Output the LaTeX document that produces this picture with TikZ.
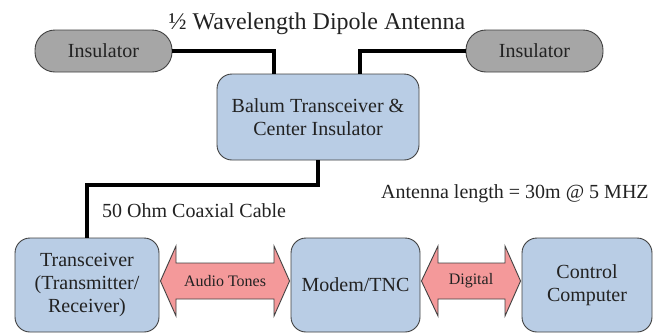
\documentclass[tikz,border=0pt]{standalone}
\usepackage{fontspec}
\setmainfont{Liberation Serif}
\usetikzlibrary{calc}
\definecolor{boxblue}{HTML}{B9CDE5}
\definecolor{insgray}{HTML}{A6A6A6}
\definecolor{arrowpink}{HTML}{F4999A}
\definecolor{edgegray}{HTML}{404040}
\definecolor{txt}{HTML}{222222}
\tikzset{
  bluebox/.style={draw=edgegray, line width=0.9pt, fill=boxblue, rounded corners=15pt,
    align=center, inner sep=0pt, text=txt, font=\fontsize{20}{23}\selectfont},
  insbox/.style={draw=edgegray, line width=0.9pt, fill=insgray, rounded corners=20pt,
    minimum width=137pt, minimum height=42pt, inner sep=0pt, text=txt, font=\fontsize{20}{23}\selectfont},
  wire/.style={line width=4pt, black},
  fatarrow/.style={draw=edgegray, line width=0.9pt, fill=arrowpink},
  lbl/.style={text=txt, inner sep=0pt, font=\fontsize{20}{23}\selectfont},
  smalllbl/.style={text=txt, inner sep=0pt, font=\fontsize{16}{19}\selectfont}
}
\begin{document}
\begin{tikzpicture}[x=1pt,y=-1pt]
\useasboundingbox (0,0) rectangle (658,333);
% nodes
\node[insbox] (ins1) at (103.5,51) {Insulator};
\node[insbox] (ins2) at (534.5,51) {Insulator};
\node[bluebox, minimum width=202pt, minimum height=86pt] (balum) at (318,117) {Balum Transceiver \&\\Center Insulator};
\node[bluebox, minimum width=144pt, minimum height=94pt] (trx) at (87,285) {Transceiver\\(Transmitter/\\Receiver)};
\node[bluebox, minimum width=129pt, minimum height=94pt] (modem) at (355.5,285) {Modem/TNC};
\node[bluebox, minimum width=130pt, minimum height=94pt] (comp) at (587,285) {Control\\Computer};
% texts
\node[lbl, anchor=base, font=\fontsize{24}{28}\selectfont] (title) at (317,29) {½ Wavelength Dipole Antenna};
\node[lbl, anchor=base west] (alen) at (381,198) {Antenna length = 30m @ 5 MHZ};
\node[lbl, anchor=base west] (coax) at (102,217) {50 Ohm Coaxial Cable};
% wires
\coordinate (bl) at ($(balum.north west)+(57,0)$);
\coordinate (br) at ($(balum.north west)+(143,0)$);
\draw[wire] (ins1.east) -| (bl);
\draw[wire] (ins2.west) -| (br);
\draw[wire] (balum.south) -- ++(0,25) -| (trx.north);
% double arrows
\draw[fatarrow] ($(trx.east)+(1,-4)$) -- (176,246) -- (176,263) -- (274,263) -- (274,246)
  -- ($(modem.west)+(-1,-4)$) -- (274,316) -- (274,299) -- (176,299) -- (176,316) -- cycle;
\node[smalllbl] (audio) at (225,281) {Audio Tones};
\draw[fatarrow] ($(modem.east)+(1,-4)$) -- (438,246) -- (438,263) -- (505,263) -- (505,246)
  -- ($(comp.west)+(-1,-4)$) -- (505,316) -- (505,299) -- (438,299) -- (438,316) -- cycle;
\node[smalllbl] (digital) at (471,281) {Digital};
\end{tikzpicture}
\end{document}
